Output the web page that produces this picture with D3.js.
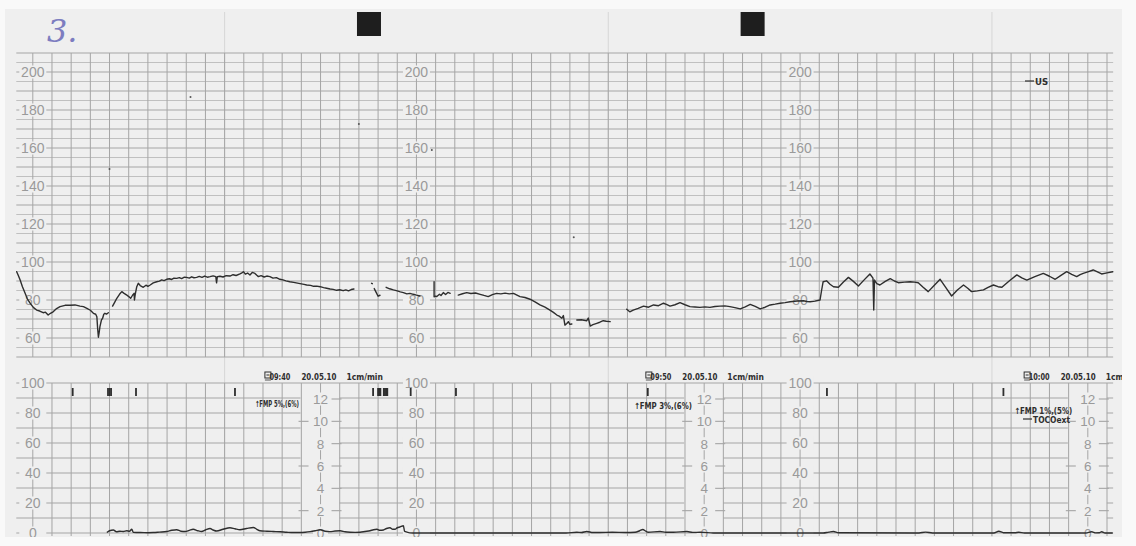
<!DOCTYPE html>
<html>
<head>
<meta charset="utf-8">
<script src="https://cdn.jsdelivr.net/npm/d3@7"></script>
<style>
  html, body { margin: 0; padding: 0; background: #ffffff; }
  svg { display: block; }
</style>
</head>
<body>
<svg id="chart" width="1136" height="546"></svg>
<script>
// ---- Recording data (minutes along the strip) ----

// Fetal heart rate, one array per continuous stretch: [minute, bpm]
const fhrSegments = [
  [[-0.42,94.9],[-0.38,93],[-0.33,90.5],[-0.27,87],[-0.2,83.5],[-0.14,80.5],[-0.07,78.3],[0.02,76],[0.1,74.7],[0.18,74.2],[0.27,73.3],[0.33,73.6],[0.4,72.1],[0.46,73],[0.53,73.8],[0.62,75.5],[0.71,76.5],[0.84,77.2],[0.97,77.2],[1.1,77.4],[1.23,76.8],[1.32,76.5],[1.41,75.6],[1.5,74.6],[1.58,73],[1.64,72.5],[1.67,71.2],[1.69,65],[1.71,60.4],[1.73,63],[1.75,66],[1.79,69.5],[1.82,70.4],[1.85,72.5],[1.88,73],[1.92,72.6],[1.97,73.3]],
  [[2.08,76.8],[2.14,79],[2.19,80.9],[2.26,83],[2.32,84.4],[2.38,83.5],[2.45,82.6],[2.5,81.8],[2.55,80.9],[2.6,82.5],[2.64,83.5],[2.65,80],[2.67,83],[2.71,87],[2.75,88.8],[2.8,87.6],[2.88,86.7],[2.95,87.8],[3.0,87.2],[3.06,87.9],[3.14,89],[3.23,89.6],[3.3,89.9],[3.36,90.6],[3.42,90.2],[3.49,90.9],[3.56,91.2],[3.62,90.8],[3.68,91.5],[3.75,91.4],[3.82,91.8],[3.88,91.3],[3.95,92],[4.01,91.9],[4.08,91.5],[4.14,92.2],[4.2,91.7],[4.27,91.9],[4.34,92.4],[4.41,91.9],[4.48,92.6],[4.55,92],[4.62,92.3],[4.7,92.7],[4.77,92.3],[4.79,89],[4.81,92.3],[4.88,92.5],[4.96,92.1],[5.04,92.8],[5.14,92.6],[5.22,93.3],[5.3,92.9],[5.4,93.7],[5.45,94.3],[5.49,94.9],[5.54,93.6],[5.6,94.2],[5.66,93.2],[5.72,94.5],[5.79,94],[5.84,93],[5.88,92.3],[5.95,92.8],[6.03,92.1],[6.1,92.6],[6.18,92.3],[6.26,91.5],[6.35,91.8],[6.44,90.9],[6.52,90.6],[6.6,90.1],[6.7,89.6],[6.8,89.3],[6.9,88.9],[7.0,88.5],[7.07,88.2],[7.14,87.9],[7.24,87.7],[7.32,87.2],[7.4,87.3],[7.49,87],[7.58,86.5],[7.66,86.2],[7.75,85.8],[7.83,85.6],[7.92,85.1],[8.0,85.4],[8.09,84.9],[8.16,85.3],[8.23,84.8],[8.3,85.5],[8.37,85.8]],
  [[8.83,88.8],[8.85,88.6]],
  [[8.9,86],[8.95,84],[9.0,82],[9.05,82.5]],
  [[9.21,86.7],[9.3,85.9],[9.4,85.3],[9.5,84.8],[9.58,84.3],[9.66,83.9],[9.75,83.2],[9.83,83.5],[9.92,83],[10.0,82.6],[10.09,82.1]],
  [[10.46,89.6],[10.46,81.7],[10.5,82],[10.53,81.8],[10.6,83],[10.64,82.4],[10.7,83.9],[10.76,82.9],[10.82,84],[10.88,83.5]],
  [[11.09,82.6],[11.2,83.3],[11.31,83.9],[11.42,83.4],[11.54,83.7],[11.66,83],[11.76,82.4],[11.87,81.8],[11.98,82.8],[12.09,83.5],[12.2,83.2],[12.31,83.6],[12.42,83.2],[12.53,83.5],[12.62,82.6],[12.7,81.8],[12.83,81.3],[12.96,80.4],[13.09,79],[13.22,77.4],[13.35,76.2],[13.48,74.7],[13.57,73.5],[13.66,72.1],[13.72,71.5],[13.79,70.4],[13.83,71.8],[13.87,66.8],[13.92,67.6],[13.96,68.6],[14.0,67.2],[14.05,67.4]],
  [[14.18,69.5],[14.3,69.6],[14.44,69.1],[14.48,70.5],[14.53,66.3],[14.6,67],[14.7,67.7],[14.78,68.3],[14.87,69.1],[14.95,68.8],[15.05,68.6]],
  [[15.48,75.1],[15.56,73.8],[15.65,74.7],[15.78,75.6],[15.92,76.8],[16.05,76.2],[16.18,77.4],[16.31,77],[16.44,78.3],[16.53,77.6],[16.61,76.8],[16.74,77.5],[16.87,78.6],[17.0,77.5],[17.13,76.5],[17.26,76.3],[17.39,76.1],[17.52,76.4],[17.65,76.1],[17.78,76.6],[17.91,76.8],[18.04,76.9],[18.17,76.5],[18.3,76],[18.44,75.3],[18.57,76.4],[18.7,77.7],[18.83,76.6],[18.96,75.3],[19.09,76.2],[19.22,77.4],[19.35,77.8],[19.48,78.3],[19.61,78.6],[19.74,79.1],[19.92,79.5],[20.09,79.6],[20.18,79.2],[20.26,79.1],[20.39,79.4],[20.52,80],[20.56,85],[20.6,89.6],[20.69,90.1],[20.78,88.3],[20.87,87],[21.0,86.7],[21.13,89.5],[21.26,91.9],[21.39,89.8],[21.52,87.4],[21.67,90.6],[21.82,93.7],[21.9,91.5],[21.92,74.7],[21.94,90.5],[22.0,88.6],[22.08,87.9],[22.22,89.8],[22.35,91.2],[22.46,90],[22.56,89.1],[22.72,89.4],[22.87,89.6],[22.98,89.4],[23.08,89.1],[23.2,86.8],[23.34,84.4],[23.5,87.8],[23.65,90.9],[23.8,86.5],[23.95,82.1],[24.1,85.3],[24.26,87.9],[24.37,86.2],[24.47,84.4],[24.62,84.8],[24.78,85.3],[24.9,86.6],[25.04,87.9],[25.16,87],[25.26,86.7],[25.45,90],[25.65,93.2],[25.78,91.6],[25.91,90.5],[26.12,92.3],[26.34,94],[26.5,92.5],[26.65,90.9],[26.8,93],[26.95,94.9],[27.08,93.5],[27.21,92.3],[27.3,93.3],[27.38,94],[27.5,94.8],[27.64,95.8],[27.75,94.8],[27.86,93.7],[28.0,94.3],[28.15,94.9]]
];

// External tocodynamometry: [minute, units]
const tocoTrace = [[1.93,0.3],[2.0,1.5],[2.1,2],[2.18,0.8],[2.27,1.2],[2.36,1],[2.45,1.5],[2.52,1.2],[2.58,2.5],[2.62,0.4],[2.7,0.3],[2.8,0.3],[3.0,0.2],[3.14,0.3],[3.3,0.6],[3.49,1],[3.62,1.8],[3.75,2.2],[3.86,1.2],[3.97,1],[4.08,1.8],[4.18,2.5],[4.3,1.5],[4.4,1],[4.5,2],[4.62,3],[4.7,2],[4.79,1.3],[4.96,2.5],[5.14,3.5],[5.27,2.8],[5.4,2.2],[5.57,3],[5.75,3.7],[5.84,2.5],[5.92,1.5],[6.1,1.2],[6.27,1],[6.45,0.8],[6.62,0.5],[6.8,0.3],[6.97,0.3],[7.1,0.5],[7.23,0.9],[7.36,1.5],[7.49,2.2],[7.62,1.2],[7.74,0.9],[7.88,1.3],[8.01,1.5],[8.14,0.8],[8.27,0.5],[8.4,0.4],[8.53,0.5],[8.66,1],[8.79,1.5],[8.88,2.2],[8.97,2.5],[9.05,1.8],[9.14,2],[9.22,3],[9.31,3.5],[9.38,2.5],[9.44,2.5],[9.5,3.5],[9.57,4],[9.66,4.8],[9.69,1.2],[9.75,0.6],[9.9,0],[13.9,0],[14.18,0.5],[14.3,0.3],[14.44,1],[14.6,0.3],[14.77,0.3],[15.1,0.5],[15.46,0.3],[15.7,0.5],[15.82,1.5],[15.9,2.3],[15.98,1.2],[16.04,0.5],[16.35,1],[16.5,0.5],[16.7,0.5],[17.05,1],[17.2,0.4],[17.4,0.5],[17.75,0],[20.6,0],[20.75,0.6],[20.87,1],[21.0,0.2],[23.1,0],[23.27,0.6],[23.45,0],[25.05,0],[25.18,1.2],[25.3,0.2],[25.6,0.2],[25.7,0.5],[25.85,0],[27.45,0],[27.6,0.8],[27.7,0.1],[27.8,0.2],[27.86,0.8],[27.95,0],[28.15,0]];

// Fetal movement marks (minutes); neighbouring marks print as a solid block
const movementMarks = [1.04, 1.96, 2.0, 2.04, 2.69, 5.27, 8.87, 9.0, 9.03, 9.06, 9.15, 9.18, 9.21, 9.24, 9.85, 11.03, 16.03, 20.70, 25.30];

// Scales printed on the paper
const fhrTicks = [200, 180, 160, 140, 120, 100, 80, 60];
const tocoTicks = [100, 80, 60, 40, 20, 0];
const kpaTicks = [12, 10, 8, 6, 4, 2, 0];
const kpaLongTicks = [10, 6, 2];
const scaleColumns = [0, 10, 20];
const kpaColumns = [7.5, 17.5, 27.5];

// Printer annotations
const stampMinutes = [6.05, 15.98, 25.84];
const stampTimes = ["09:40", "09:50", "10:00"];
const stampDate = "20.05.10";
const paperSpeed = "1cm/min";
const fmpMinutes = [5.79, 15.67, 25.58];
const fmpLabels = ["\u2191FMP 5%,(6%)", "\u2191FMP 3%,(6%)", "\u2191FMP 1%,(5%)"];
const channelFhr = "US";
const channelToco = "TOCOext";
const sheetNumber = "3.";
const foldMinutes = [5, 15, 25];
const specks = [[4.11, 186.8], [8.5, 172.6], [2.0, 149], [10.4, 159], [14.1, 113]];

// ---- Drawing ----
const svg = d3.select("#chart");
const x = d3.scaleLinear().domain([0, 28]).range([32.8, 1107]);
const yF = d3.scaleLinear().domain([50, 210]).range([357, 53]);
const yT = d3.scaleLinear().domain([0, 100]).range([533, 383]);
const yK = d3.scaleLinear().domain([0, 12]).range([533, 399]);
const tLeft = -0.43, tRight = 28.16;
const PAPER = "#efefef";
const INK = "#2e2e2e";
const GRID = "#a5a5a5";
const GRID_LIGHT = "#bababa";
const LABEL = "#9a9a9a";

svg.append("rect").attr("width", 1136).attr("height", 546).attr("fill", "#f9f9f9");
svg.append("defs").append("clipPath").attr("id", "paper")
  .append("rect").attr("x", 5).attr("y", 9).attr("width", 1117).attr("height", 528);

const g = svg.append("g").attr("clip-path", "url(#paper)");
g.append("rect").attr("x", 5).attr("y", 9).attr("width", 1117).attr("height", 528).attr("fill", PAPER);

// faint fold creases
g.selectAll(".fold").data(foldMinutes).join("line")
  .attr("x1", d => x(d)).attr("x2", d => x(d))
  .attr("y1", 12).attr("y2", 537)
  .attr("stroke", "#d6d6d6").attr("stroke-width", 1);

// heart-rate grid
const halfMinutes = d3.range(0, 28.01, 0.5);
g.selectAll(".fh").data(d3.range(50, 211, 5)).join("line")
  .attr("x1", x(tLeft)).attr("x2", x(tRight))
  .attr("y1", d => yF(d)).attr("y2", d => yF(d))
  .attr("stroke", d => d % 10 === 0 ? GRID : GRID_LIGHT)
  .attr("stroke-width", d => d % 10 === 0 ? 1.1 : 0.9);
g.selectAll(".fv").data(halfMinutes).join("line")
  .attr("x1", d => x(d)).attr("x2", d => x(d))
  .attr("y1", yF(210)).attr("y2", yF(50))
  .attr("stroke", GRID).attr("stroke-width", 1);

// contraction grid
g.selectAll(".th").data(d3.range(0, 101, 10)).join("line")
  .attr("x1", x(tLeft)).attr("x2", x(tRight))
  .attr("y1", d => yT(d)).attr("y2", d => yT(d))
  .attr("stroke", GRID).attr("stroke-width", 1);
// the kPa scale strip interrupts the horizontal rules
g.selectAll(".kblank").data(kpaColumns).join("rect")
  .attr("x", d => x(d) - 20).attr("width", 39)
  .attr("y", yT(96)).attr("height", yT(0) - yT(96) - 1.5)
  .attr("fill", PAPER);
g.selectAll(".tv").data(halfMinutes).join("line")
  .attr("x1", d => x(d)).attr("x2", d => x(d))
  .attr("y1", yT(100)).attr("y2", yT(0) + 3)
  .attr("stroke", GRID).attr("stroke-width", 1);

// kPa ticks either side of the scale
kpaColumns.forEach(c => {
  g.selectAll(null).data(kpaLongTicks).join("line")
    .attr("x1", x(c) - 22).attr("x2", x(c) - 12)
    .attr("y1", d => yK(d)).attr("y2", d => yK(d))
    .attr("stroke", GRID).attr("stroke-width", 1.1);
  g.selectAll(null).data(kpaTicks.filter(v => v > 0)).join("line")
    .attr("x1", x(c) + 11).attr("x2", x(c) + 21)
    .attr("y1", d => yK(d)).attr("y2", d => yK(d))
    .attr("stroke", GRID).attr("stroke-width", 1.1);
});

// scale labels with a paper-coloured knock-out
function scaleLabels(values, yScale, columns, w, fontSize) {
  columns.forEach(c => {
    const lg = g.append("g");
    lg.selectAll("rect").data(values).join("rect")
      .attr("x", x(c) - w / 2).attr("width", w)
      .attr("y", d => yScale(d) - 6.5).attr("height", 13)
      .attr("fill", PAPER);
    lg.selectAll("text").data(values).join("text")
      .attr("x", x(c)).attr("y", d => yScale(d))
      .attr("dy", "0.36em")
      .attr("text-anchor", "middle")
      .attr("font-family", "'Liberation Sans', Arial, sans-serif")
      .attr("font-size", fontSize)
      .attr("fill", LABEL)
      .text(d => d);
  });
}
scaleLabels(fhrTicks, yF, scaleColumns, 27, 14);
scaleLabels(tocoTicks, yT, scaleColumns, 27, 14);
scaleLabels(kpaTicks, yK, kpaColumns, 15, 13.5);

// specks on the paper
g.selectAll(".speck").data(specks).join("circle")
  .attr("cx", d => x(d[0])).attr("cy", d => yF(d[1]))
  .attr("r", 1).attr("fill", "#555");

// traces
const fhrLine = d3.line().x(d => x(d[0])).y(d => yF(d[1])).curve(d3.curveLinear);
g.selectAll(".fhr").data(fhrSegments).join("path")
  .attr("d", fhrLine)
  .attr("fill", "none").attr("stroke", INK)
  .attr("stroke-width", 1.4).attr("stroke-linejoin", "round").attr("stroke-linecap", "round");

const tocoLine = d3.line().x(d => x(d[0])).y(d => yT(d[1])).curve(d3.curveMonotoneX);
g.append("path").datum(tocoTrace)
  .attr("d", tocoLine)
  .attr("fill", "none").attr("stroke", INK)
  .attr("stroke-width", 1.4).attr("stroke-linejoin", "round");

// fetal movement marks
g.selectAll(".mv").data(movementMarks).join("rect")
  .attr("x", d => x(d) - 0.9).attr("width", 1.8)
  .attr("y", 388).attr("height", 8)
  .attr("fill", INK);

// printer annotations
const NARROW = "'Liberation Sans Narrow', 'DejaVu Sans Condensed', Arial, sans-serif";
stampMinutes.forEach((m, i) => {
  const x0 = x(m);
  const s = g.append("g");
  s.append("rect").attr("x", x0).attr("y", 372).attr("width", 6).attr("height", 6)
    .attr("fill", "none").attr("stroke", INK).attr("stroke-width", 1);
  s.append("line").attr("x1", x0 + 1.5).attr("x2", x0 + 4.5).attr("y1", 375).attr("y2", 375)
    .attr("stroke", INK).attr("stroke-width", 1);
  s.append("line").attr("x1", x0).attr("x2", x0 + 6).attr("y1", 380).attr("y2", 380)
    .attr("stroke", INK).attr("stroke-width", 0.8);
  const txt = [[stampTimes[i], 4.5, 21], [stampDate, 36.5, 35], [paperSpeed, 81.5, 36.5]];
  txt.forEach(([t, dx, w]) => {
    s.append("text").attr("x", x0 + dx).attr("y", 380)
      .attr("font-family", NARROW).attr("font-weight", "bold").attr("font-size", 9.5)
      .attr("fill", INK).attr("textLength", w).attr("lengthAdjust", "spacingAndGlyphs")
      .text(t);
  });
});

g.selectAll(".fmp").data(fmpLabels).join("text")
  .attr("x", (d, i) => x(fmpMinutes[i]))
  .attr("y", (d, i) => [406.5, 409, 414][i])
  .attr("font-family", NARROW).attr("font-weight", "bold").attr("font-size", 8.5)
  .attr("fill", INK).attr("textLength", (d, i) => [44, 58, 58][i]).attr("lengthAdjust", "spacingAndGlyphs")
  .text(d => d);

// channel legends
g.append("line").attr("x1", 1025).attr("x2", 1034).attr("y1", 81).attr("y2", 81)
  .attr("stroke", INK).attr("stroke-width", 1.2);
g.append("text").attr("x", 1035).attr("y", 84.5)
  .attr("font-family", NARROW).attr("font-weight", "bold").attr("font-size", 9.5)
  .attr("fill", INK).text(channelFhr);
g.append("line").attr("x1", 1023).attr("x2", 1032).attr("y1", 419).attr("y2", 419)
  .attr("stroke", INK).attr("stroke-width", 1.2);
g.append("text").attr("x", 1033).attr("y", 422.5)
  .attr("font-family", NARROW).attr("font-weight", "bold").attr("font-size", 8.5)
  .attr("fill", INK).attr("textLength", 37).attr("lengthAdjust", "spacingAndGlyphs")
  .text(channelToco);

// registration squares along the top edge
g.selectAll(".reg").data([8.45, 18.45]).join("rect")
  .attr("x", d => x(d)).attr("y", 12).attr("width", 24).attr("height", 24)
  .attr("fill", "#1e1e1e");

// handwritten sheet number
g.append("text").attr("x", 47).attr("y", 42)
  .attr("font-family", "'DejaVu Serif', serif").attr("font-style", "italic")
  .attr("font-size", 32).attr("fill", "#6a6ab8").attr("opacity", 0.85)
  .text(sheetNumber);
</script>
</body>
</html>
